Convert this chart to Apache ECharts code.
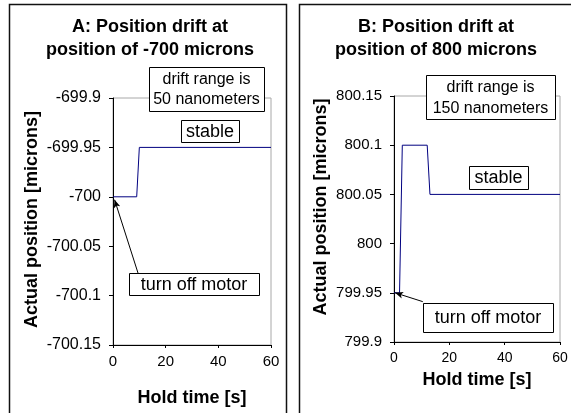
<!DOCTYPE html>
<html>
<head>
<meta charset="utf-8">
<style>
    html, body { margin: 0; padding: 0; background: #fff; }
    #main { width: 571px; height: 413px; }
</style>
</head>
<body>
<div id="main"></div>
<script src="https://cdn.jsdelivr.net/npm/echarts@6/dist/echarts.min.js"></script>
<script>
    // panel A: hold at -700 microns
    var timeA = [0, 9, 10, 60];
    var posA = [-700, -700, -699.95, -699.95];
    var yTicksA = [-700.15, -700.1, -700.05, -700, -699.95, -699.9];

    // panel B: hold at 800 microns
    var timeB = [0, 2, 3, 12, 13, 60];
    var posB = [799.95, 799.95, 800.1, 800.1, 800.05, 800.05];
    var yTicksB = [799.9, 799.95, 800, 800.05, 800.1, 800.15];

    var xTicks = [0, 20, 40, 60];

    var FONT = '"Liberation Sans", Arial, sans-serif';

    function pairs(xs, ys) {
        var res = [];
        for (var i = 0; i < xs.length; i++) res.push([xs[i], ys[i]]);
        return res;
    }

    function xAxisFor(idx, gap, fs) {
        return {
            type: 'value', gridIndex: idx,
            min: xTicks[0], max: xTicks[xTicks.length - 1], interval: 20,
            name: 'Hold time [s]', nameLocation: 'middle', nameGap: gap,
            nameTextStyle: { fontFamily: FONT, fontWeight: 'bold', fontSize: 18, color: '#000' },
            axisLine: { lineStyle: { color: '#000', width: 1 } },
            axisTick: { inside: false, length: 3, lineStyle: { color: '#000' } },
            axisLabel: { margin: 9, fontFamily: FONT, fontSize: fs, color: '#000' },
            splitLine: { show: false }
        };
    }

    function yAxisFor(idx, ticks, gap, shift, fs) {
        return {
            type: 'value', gridIndex: idx,
            min: ticks[0], max: ticks[ticks.length - 1], interval: 0.05,
            name: 'Actual position [microns]', nameLocation: 'middle', nameGap: gap,
            nameTextStyle: { fontFamily: FONT, fontWeight: 'bold', fontSize: 18, color: '#000',
                             padding: [0, 0, 0, shift] },
            axisLine: { show: true, lineStyle: { color: '#000', width: 1 } },
            axisTick: { show: true, length: 4, lineStyle: { color: '#000' } },
            axisLabel: {
                margin: 12, fontFamily: FONT, fontSize: fs, color: '#000',
                formatter: function (v) { return String(+v.toFixed(2)); }
            },
            splitLine: { show: false }
        };
    }

    function arrowLine(from, to) {
        return {
            silent: true, animation: false,
            symbol: ['none', 'arrow'], symbolSize: [5, 8],
            lineStyle: { color: '#000', width: 1, type: 'solid' },
            label: { show: false },
            data: [[{ coord: from }, { coord: to }]]
        };
    }

    function box(x, y, w, h, text, fs, lh) {
        return {
            type: 'group', z: 100,
            children: [
                { type: 'rect', shape: { x: x + 0.5, y: y + 0.5, width: w, height: h },
                  style: { fill: '#fff', stroke: '#000', lineWidth: 1 } },
                { type: 'text', x: x + w / 2, y: y + h / 2 + 1,
                  style: { text: text, font: fs + 'px ' + FONT, fill: '#000',
                           align: 'center', verticalAlign: 'middle', lineHeight: lh || fs } }
            ]
        };
    }

    function title(cx, text) {
        return {
            type: 'text', x: cx, y: 16, z: 100,
            style: { text: text, font: 'bold 18px ' + FONT, fill: '#000',
                     align: 'center', verticalAlign: 'top', lineHeight: 23 }
        };
    }

    var chart = echarts.init(document.getElementById('main'));

    var option = {
        animation: false,
        grid: [
            { left: 113, top: 98, width: 158, height: 247, show: true,
              borderColor: '#a8a8a8', borderWidth: 1, backgroundColor: 'transparent' },
            { left: 394, top: 96, width: 166, height: 246, show: true,
              borderColor: '#a8a8a8', borderWidth: 1, backgroundColor: 'transparent' }
        ],
        xAxis: [xAxisFor(0, 44, 15), xAxisFor(1, 29, 14)],
        yAxis: [yAxisFor(0, yTicksA, 72, 4, 16), yAxisFor(1, yTicksB, 64, 24, 15)],
        series: [
            {
                name: 'A', type: 'line', xAxisIndex: 0, yAxisIndex: 0,
                data: pairs(timeA, posA), symbol: 'none',
                lineStyle: { color: '#000080', width: 1 },
                markLine: arrowLine([9.6, -700.078], [0.6, -700.003])
            },
            {
                name: 'B', type: 'line', xAxisIndex: 1, yAxisIndex: 1,
                data: pairs(timeB, posB), symbol: 'none',
                lineStyle: { color: '#000080', width: 1 },
                markLine: arrowLine([10.4, 799.941], [0.4, 799.95])
            }
        ],
        graphic: [
            { type: 'rect', z: 90, shape: { x: 9.5, y: 4.5, width: 277, height: 430 },
              style: { fill: 'none', stroke: '#111', lineWidth: 1.5 } },
            { type: 'rect', z: 90, shape: { x: 299.5, y: 4.5, width: 300, height: 430 },
              style: { fill: 'none', stroke: '#111', lineWidth: 1.5 } },
            title(150, 'A: Position drift at\nposition of -700 microns'),
            title(436, 'B: Position drift at\nposition of 800 microns'),
            box(149, 67, 115, 44, 'drift range is\n50 nanometers', 16, 20),
            box(181, 120, 58, 22, 'stable', 18),
            box(129, 273, 130, 22, 'turn off motor', 18),
            box(426, 75, 129, 44, 'drift range is\n150 nanometers', 16, 21),
            box(469, 166, 59, 23, 'stable', 18),
            box(423, 303, 130, 29, 'turn off motor', 18)
        ]
    };

    chart.setOption(option);
</script>
</body>
</html>
